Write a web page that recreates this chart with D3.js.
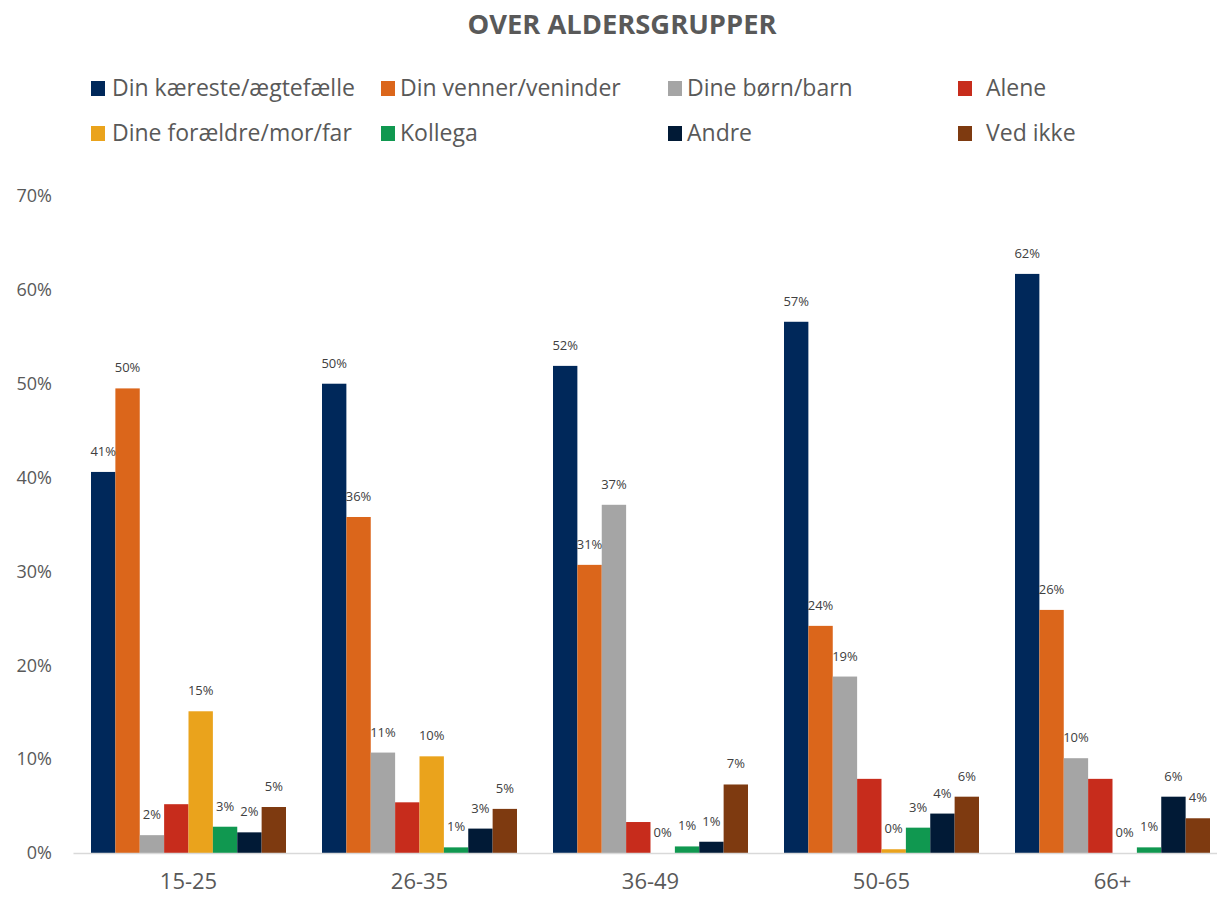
<!DOCTYPE html>
<html>
<head>
<meta charset="utf-8">
<script src="https://cdn.jsdelivr.net/npm/d3@7"></script>
<style>
  html, body { margin: 0; padding: 0; background: #fff; }
  svg { display: block; }
</style>
</head>
<body>
<div id="chart"></div>
<script>
const categories = ["15-25", "26-35", "36-49", "50-65", "66+"];
const seriesNames = ["Din kæreste/ægtefælle", "Din venner/veninder", "Dine børn/barn", "Alene",
                     "Dine forældre/mor/far", "Kollega", "Andre", "Ved ikke"];
const kaereste = [40.6, 50.0, 51.9, 56.6, 61.7];
const venner   = [49.5, 35.8, 30.7, 24.2, 25.9];
const boern    = [1.9, 10.7, 37.1, 18.8, 10.1];
const alene    = [5.2, 5.4, 3.3, 7.9, 7.9];
const foraeldre= [15.1, 10.3, 0, 0.4, 0];
const kollega  = [2.8, 0.6, 0.7, 2.7, 0.6];
const andre    = [2.2, 2.6, 1.2, 4.2, 6.0];
const vedIkke  = [4.9, 4.7, 7.3, 6.0, 3.7];
const seriesValues = [kaereste, venner, boern, alene, foraeldre, kollega, andre, vedIkke];
const showLabels = [true, true, true, false, true, true, true, true];
const colors = ["#00285A", "#DB661B", "#A5A5A5", "#C72C1C", "#EAA31C", "#109850", "#011A36", "#7E3A10"];
const yTicks = [0, 10, 20, 30, 40, 50, 60, 70];
const title = "OVER ALDERSGRUPPER";

const W = 1217, H = 899;
const svg = d3.select("#chart").append("svg").attr("width", W).attr("height", H);

const x0 = d3.scaleBand().domain(categories).range([73, 1228]).padding(0);
const x1 = d3.scaleBand().domain(d3.range(seriesNames.length)).range([18, x0.bandwidth() - 18]).padding(0);
const y = d3.scaleLinear().domain([0, 70]).range([853, 196]);

// Title
svg.append("text")
  .attr("x", 622).attr("y", 34)
  .attr("text-anchor", "middle")
  .attr("font-family", "'Open Sans', sans-serif")
  .attr("font-weight", "bold")
  .attr("font-size", 26)
  .attr("fill", "#595959")
  .attr("textLength", 309)
  .attr("lengthAdjust", "spacingAndGlyphs")
  .text(title);

// Legend
const legendPos = [
  [91, 88], [381, 88], [668, 88], [958, 88],
  [91, 133], [381, 133], [668, 133], [958, 133]
];
const legendTextX = [112, 400, 687, 986, 112, 400, 687, 986];
const lg = svg.append("g");
seriesNames.forEach((name, i) => {
  lg.append("rect")
    .attr("x", legendPos[i][0]).attr("y", legendPos[i][1] - 7)
    .attr("width", 14).attr("height", 15)
    .attr("fill", colors[i]);
  lg.append("text")
    .attr("x", legendTextX[i]).attr("y", legendPos[i][1])
    .attr("dy", "0.36em")
    .attr("font-family", "'Open Sans', sans-serif")
    .attr("font-size", 23)
    .attr("fill", "#595959")
    .text(name);
});

// Y axis (labels only)
const yAxis = d3.axisLeft(y).tickValues(yTicks).tickFormat(d => d + "%").tickSize(0).tickPadding(0);
const yg = svg.append("g").attr("transform", "translate(52,0)").call(yAxis);
yg.select(".domain").remove();
yg.selectAll("text")
  .attr("font-family", "'Open Sans', sans-serif")
  .attr("font-size", 18)
  .attr("fill", "#595959");

// Bars
const groups = svg.append("g").selectAll("g")
  .data(categories)
  .join("g")
  .attr("transform", d => `translate(${x0(d)},0)`);

groups.selectAll("rect")
  .data((c, ci) => seriesValues.map((vals, si) => ({ si, v: vals[ci] })))
  .join("rect")
  .attr("x", d => x1(d.si))
  .attr("width", x1.bandwidth())
  .attr("y", d => y(d.v))
  .attr("height", d => y(0) - y(d.v))
  .attr("fill", d => colors[d.si]);

// X axis
const xAxis = d3.axisBottom(x0).tickSize(0).tickPadding(20);
const xg = svg.append("g").attr("transform", `translate(0,${y(0)})`).call(xAxis);
xg.select(".domain").attr("stroke", "#D9D9D9").attr("stroke-width", 1.5);
xg.selectAll("text")
  .attr("font-family", "'Open Sans', sans-serif")
  .attr("font-size", 22)
  .attr("fill", "#595959");

// Data labels
groups.selectAll("text.lbl")
  .data((c, ci) => seriesValues.map((vals, si) => ({ si, v: vals[ci] })).filter(d => showLabels[d.si]))
  .join("text")
  .attr("class", "lbl")
  .attr("x", d => x1(d.si) + x1.bandwidth() / 2)
  .attr("y", d => y(d.v) - 16)
  .attr("text-anchor", "middle")
  .attr("font-family", "'Open Sans', sans-serif")
  .attr("font-size", 13)
  .attr("fill", "#404040")
  .text(d => Math.round(d.v) + "%");
</script>
</body>
</html>
